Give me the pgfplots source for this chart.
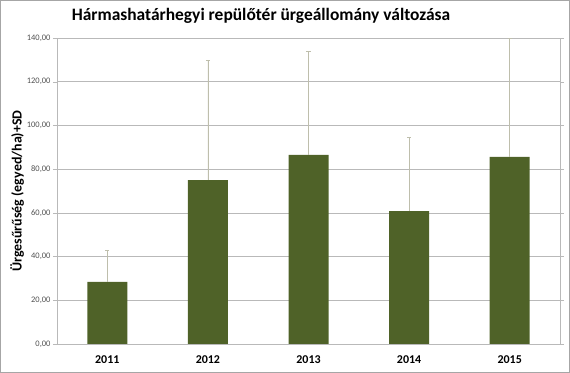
\documentclass[border=0pt]{standalone}
\usepackage{pgfplots}
\pgfplotsset{compat=1.18}
\usepackage{fontspec}
\setmainfont{Carlito}
\definecolor{barc}{RGB}{79,98,40}
\definecolor{gridc}{RGB}{185,185,185}
\definecolor{errc}{RGB}{190,190,172}
\definecolor{tickc}{RGB}{80,80,80}
\begin{document}
\begin{tikzpicture}
\useasboundingbox (-57bp,-29bp) rectangle (513bp,344bp);
\draw[gray!70, line width=0.8bp] (-56.5bp,-28.5bp) rectangle (512.5bp,343.5bp);
\begin{axis}[
  at={(0,0)}, anchor=south west,
  scale only axis, width=503bp, height=306bp,
  xmin=-0.5, xmax=4.5, ymin=0, ymax=140,
  xtick={0,1,2,3,4},
  xticklabels={2011,2012,2013,2014,2015},
  major x tick style={draw=none},
  extra x ticks={-0.5,0.5,1.5,2.5,3.5,4.5},
  extra x tick labels={},
  extra x tick style={tick style={draw=gridc}, major tick length=4bp, tick align=outside, grid=none},
  ytick={0,20,40,60,80,100,120,140},
  ymajorgrids, grid style={gridc, line width=0.6bp},
  axis line style={gridc, line width=0.6bp},
  tick align=outside, major tick length=4bp,
  ytick style={gridc},
  xticklabel style={font=\fontsize{12}{13}\selectfont\bfseries, yshift=-4bp},
  yticklabel style={font=\fontsize{8.5}{9}\selectfont, text=tickc, xshift=1bp},
  /pgf/number format/.cd, fixed, fixed zerofill, precision=2, use comma, assume math mode=true,
  /pgfplots/.cd,
  ylabel={Ürgesűrűség (egyed/ha)+SD},
  ylabel style={at={(axis description cs:-0.0795,0.5)}, anchor=center, rotate=0, font=\fontsize{14}{16}\selectfont\bfseries},
  title={Hármashatárhegyi repülőtér ürgeállomány változása},
  title style={at={(axis description cs:0.4056,1)}, anchor=base, yshift=12bp, font=\fontsize{17.5}{20}\selectfont\bfseries},
  clip=true,
]
\addplot[ybar, bar width=40bp, fill=barc, draw=none,
  error bars/.cd, y dir=plus, y explicit,
  error bar style={errc, line width=0.7bp},
  error mark options={errc, mark size=2bp, rotate=90, line width=0.7bp}]
coordinates {
  (0,28.4) +- (0,14.6)
  (1,75.0) +- (0,54.9)
  (2,86.5) +- (0,47.5)
  (3,60.8) +- (0,33.9)
  (4,85.6) +- (0,54.4)
};
\end{axis}
\end{tikzpicture}
\end{document}
